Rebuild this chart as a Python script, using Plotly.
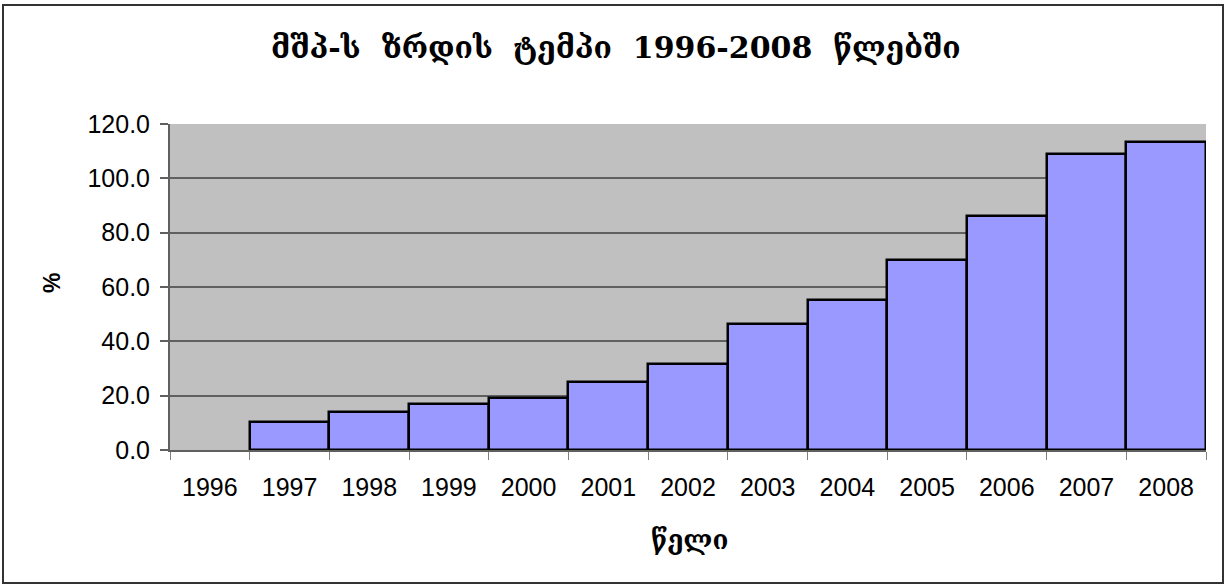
import plotly.graph_objects as go

years = ["1996", "1997", "1998", "1999", "2000", "2001", "2002",
         "2003", "2004", "2005", "2006", "2007", "2008"]
growth = [0.0, 10.4, 14.0, 16.9, 19.3, 25.1, 31.8, 46.4, 55.2, 69.9, 86.1, 109.1, 113.4]
y_ticks = [0, 20, 40, 60, 80, 100, 120]

title_text = "მშპ-ს  ზრდის  ტემპი  1996-2008  წლებში"
x_title = "წელი"
y_title = "%"

W, H = 1227, 586
L, R, T, B = 170, 21, 124, 136
pw, ph = W - L - R, H - T - B

def px(x):
    return (x - L) / pw

def py(y):
    return (H - B - y) / ph

# zero-height bars get no outline (like the reference)
outline_widths = [2.5 if v > 0 else 0 for v in growth]

fig = go.Figure()
fig.add_trace(go.Bar(
    x=years, y=growth,
    marker=dict(color="#9999FF", line=dict(color="black", width=outline_widths)),
    width=1.0,
))

tick_font = dict(family="Liberation Sans, Arial, sans-serif", size=25, color="black")
geo_font = "DejaVu Serif, DejaVu Sans, serif"

fig.update_layout(
    width=W, height=H,
    margin=dict(l=L, r=R, t=T, b=B),
    paper_bgcolor="white",
    plot_bgcolor="#C0C0C0",
    showlegend=False,
    bargap=0,
    xaxis=dict(
        type="category",
        tickfont=tick_font,
        ticks="outside", ticklen=8, tickcolor="#808080", tickwidth=1,
        tickson="boundaries",
        ticklabelstandoff=14,
        showgrid=False,
        showline=True, linecolor="#606060", linewidth=2,
        range=[-0.5, len(years) - 0.5],
    ),
    yaxis=dict(
        range=[0, 120],
        tickvals=y_ticks,
        tickformat=".1f",
        tickfont=tick_font,
        ticks="outside", ticklen=8, tickcolor="#606060", tickwidth=2,
        ticklabelstandoff=5,
        showline=True, linecolor="#606060", linewidth=2,
        showgrid=True, gridcolor="#606060", gridwidth=1.5,
        zeroline=False,
    ),
    annotations=[
        dict(text="<b>" + title_text.replace("  ", "\u00a0 ") + "</b>", x=px(616), y=py(47),
             xref="paper", yref="paper",
             showarrow=False, xanchor="center", yanchor="middle",
             font=dict(family=geo_font, size=30, color="black")),
        dict(text="<b>" + x_title + "</b>", x=px(689), y=py(540), xref="paper", yref="paper",
             showarrow=False, xanchor="center", yanchor="middle",
             font=dict(family=geo_font, size=26, color="black")),
        dict(text="<b>" + y_title + "</b>", x=px(52), y=py(283), xref="paper", yref="paper",
             showarrow=False, xanchor="center", yanchor="middle", textangle=-90,
             font=dict(family="Liberation Sans, Arial, sans-serif", size=23, color="black")),
    ],
    shapes=[
        dict(type="rect", xref="paper", yref="paper",
             x0=px(3), x1=px(1223), y0=py(583), y1=py(5),
             line=dict(color="#333333", width=2), layer="below"),
    ],
)

fig.write_html("out.html", config={"displayModeBar": False},
               post_script="document.body.style.margin='0';")
